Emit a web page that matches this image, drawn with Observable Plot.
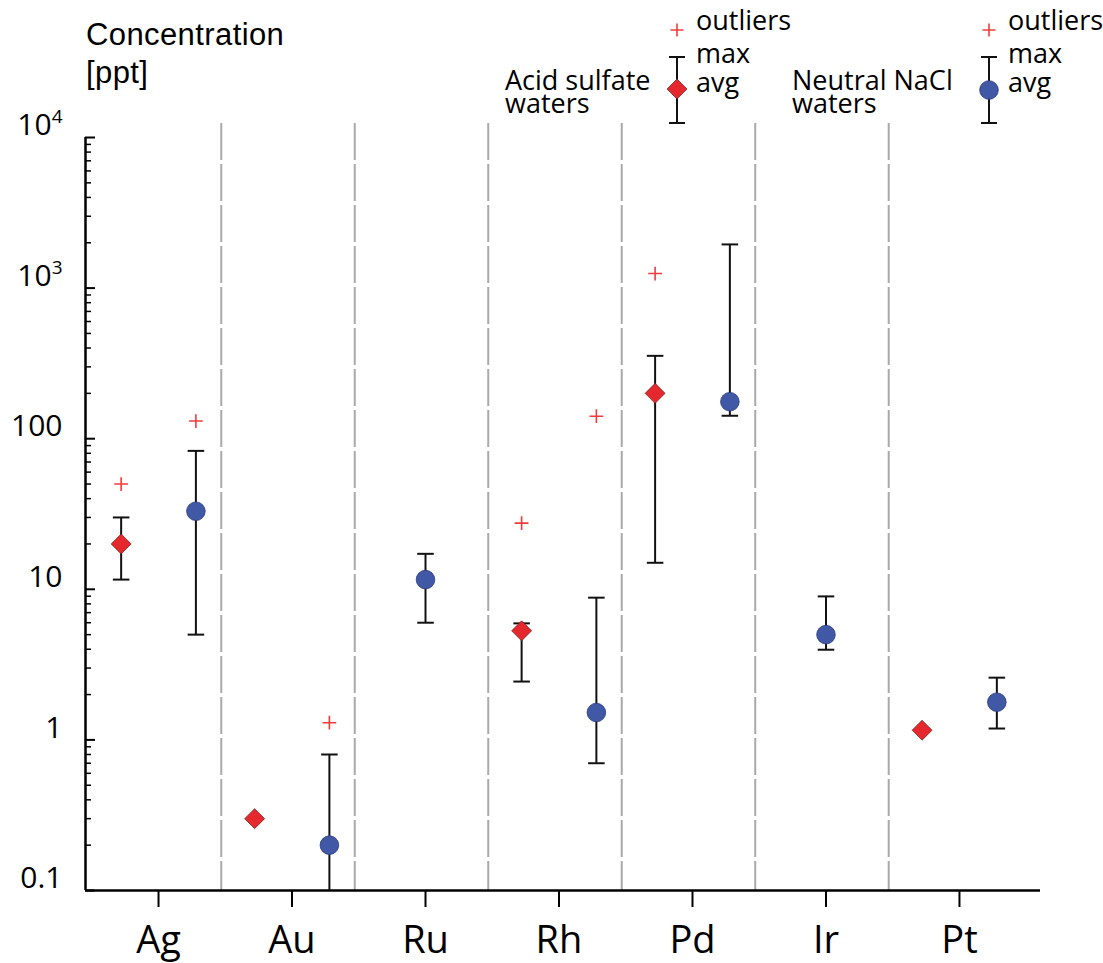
<!DOCTYPE html>
<html>
<head>
<meta charset="utf-8">
<script src="https://cdn.jsdelivr.net/npm/d3@7"></script>
<script src="https://cdn.jsdelivr.net/npm/@observablehq/plot@0.6"></script>
<style>
  html, body { margin: 0; padding: 0; background: #fff; }
  #chart { width: 1103px; height: 963px; }
</style>
</head>
<body>
<div id="chart"></div>
<script>
// Trace-element concentrations (ppt) in two hot-spring water types
const elements = ["Ag", "Au", "Ru", "Rh", "Pd", "Ir", "Pt"];

// Acid sulfate waters (null = not reported)
const acidAvg      = [20,   0.3,  null, 5.3,  200,  null, 1.16];
const acidMin      = [11.6, null, null, 2.44, 15,   null, null];
const acidMax      = [30,   null, null, 5.94, 355,  null, null];
const acidOutlier  = [50,   null, null, 27.5, 1250, null, null];

// Neutral NaCl waters
const neutralAvg     = [33,  0.2,  11.6, 1.52, 176,  5.0,  1.78];
const neutralMin     = [5.0, 0.1,  6.0,  0.70, 142,  3.97, 1.19];
const neutralMax     = [83,  0.80, 17.2, 8.8,  1950, 8.97, 2.59];
const neutralOutlier = [131, 1.3,  null, 141,  null, null, null];

// Y-axis ticks and labels
const yMajor = [0.1, 1, 10, 100, 1000, 10000];
const yLabels = ["0.1", "1", "10", "100", "10^3", "10^4"];

const RED = "#e4282d", BLUE = "#4058a6", OUT = "#ef3b3b";
const OFFSET = 0.28;     // horizontal shift of each series inside its element column
const CAP = 0.062;       // half-width of error-bar caps, in column units

// a series sits in the middle of its column when the other series has no value there
function rows(avg, min, max, out, other, shift) {
  return elements.map((el, i) => ({
    el, pos: i + (other[i] == null ? 0 : shift),
    avg: avg[i], min: min[i], max: max[i], out: out[i]
  }));
}
const acid = rows(acidAvg, acidMin, acidMax, acidOutlier, neutralAvg, -OFFSET);
const neutral = rows(neutralAvg, neutralMin, neutralMax, neutralOutlier, acidAvg, OFFSET);
const all = acid.concat(neutral);
const withBars = all.filter(d => d.min != null && d.max != null);
const withOut = all.filter(d => d.out != null);

const yMinor = [];
for (let e = -1; e < 4; e++) for (let k = 2; k <= 9; k++) yMinor.push(k * Math.pow(10, e));

const W = 1103, H = 963, ML = 85, MR = 63, MT = 137, MB = 73;
const frameW = W - ML - MR;
const xDomain = [-0.547, 6.607];

const chart = Plot.plot({
  width: W, height: H,
  marginLeft: ML, marginRight: MR, marginTop: MT, marginBottom: MB,
  style: { fontFamily: "'Open Sans', sans-serif", background: "#fff", color: "#000" },
  x: { domain: xDomain },
  y: { type: "log", domain: [0.1, 10000], axis: null },
  marks: [
    // dashed column separators
    Plot.ruleX(d3.range(elements.length - 1).map(i => i + 0.47), {
      stroke: "#a9a9a9", strokeWidth: 2, strokeDasharray: "37,4", insetTop: -14
    }),
    // error bars
    Plot.ruleX(withBars, { x: "pos", y1: "min", y2: "max", stroke: "#111", strokeWidth: 2 }),
    Plot.link(withBars, { x1: d => d.pos - CAP, x2: d => d.pos + CAP, y1: "max", y2: "max", stroke: "#111", strokeWidth: 2 }),
    Plot.link(withBars.filter(d => d.min > 0.1), { x1: d => d.pos - CAP, x2: d => d.pos + CAP, y1: "min", y2: "min", stroke: "#111", strokeWidth: 2 }),
    // averages
    Plot.dot(acid.filter(d => d.avg != null), {
      x: "pos", y: "avg", symbol: "diamond2", r: 9, fill: RED, stroke: "#6b1d1d", strokeWidth: 0.7
    }),
    Plot.dot(neutral.filter(d => d.avg != null), {
      x: "pos", y: "avg", r: 9.3, fill: BLUE, stroke: "#2a3a7a", strokeWidth: 0.8
    }),
    // outliers
    Plot.dot(withOut, { x: "pos", y: "out", symbol: "plus", r: 4.5, stroke: OUT, strokeWidth: 1.6 }),
    // axis lines
    Plot.ruleY([0.1], { stroke: "#000", strokeWidth: 2.5 }),
    Plot.ruleX([xDomain[0]], { stroke: "#000", strokeWidth: 2.5 }),
    // inward y ticks
    Plot.tickY(yMajor, { y: d => d, insetRight: frameW - 10, stroke: "#000", strokeWidth: 2 }),
    Plot.tickY(yMinor, { y: d => d, insetRight: frameW - 6, stroke: "#000", strokeWidth: 1.5 }),
    // y labels
    Plot.text(yMajor, {
      y: d => d, frameAnchor: "left", dx: -23, dy: -12, textAnchor: "end",
      text: (d, i) => yLabels[i], fontSize: 30, fill: "#000"
    }),
    // x axis
    Plot.axisX({
      ticks: d3.range(elements.length), tickFormat: i => elements[i],
      tickSize: 17, tickPadding: 19, fontSize: 38, strokeWidth: 2, label: null, fill: "#000"
    })
  ]
});

document.getElementById("chart").appendChild(chart);

const svg = d3.select(chart);

// power-of-ten labels with raised exponents
svg.selectAll("text").each(function () {
  const m = /^10\^(\d)$/.exec(this.textContent);
  if (m) {
    this.textContent = "10";
    d3.select(this).append("tspan").attr("dy", -12).attr("font-size", 19).text(m[1]);
  }
});

// axis title
const title = svg.append("g")
  .attr("font-family", "'Liberation Sans', Arial, sans-serif")
  .attr("text-anchor", "start")
  .attr("font-size", 31).attr("letter-spacing", "0.4px").attr("fill", "#000");
title.append("text").attr("x", 86).attr("y", 45).text("Concentration");
title.append("text").attr("x", 86).attr("y", 83).text("[ppt]");

// legends
function legend(labelX, symX, lines, kind) {
  const g = svg.append("g").attr("font-family", "'Open Sans', sans-serif")
    .attr("text-anchor", "start")
    .attr("font-size", 27).attr("fill", "#000");
  g.append("text").attr("x", labelX).attr("y", 90).text(lines[0]);
  g.append("text").attr("x", labelX).attr("y", 113).text(lines[1]);
  // outlier mark
  g.append("path").attr("d", `M${symX - 6.5},30H${symX + 6.5}M${symX},23.5V36.5`)
    .attr("stroke", OUT).attr("stroke-width", 1.6).attr("fill", "none");
  // range bar
  g.append("path").attr("d", `M${symX},57V123M${symX - 8},57H${symX + 8}M${symX - 8},123H${symX + 8}`)
    .attr("stroke", "#111").attr("stroke-width", 2).attr("fill", "none");
  if (kind === "diamond") {
    g.append("path").attr("d", `M${symX},79L${symX + 10},89L${symX},99L${symX - 10},89Z`)
      .attr("fill", RED).attr("stroke", "#6b1d1d").attr("stroke-width", 0.7);
  } else {
    g.append("circle").attr("cx", symX).attr("cy", 90).attr("r", 9.3)
      .attr("fill", BLUE).attr("stroke", "#2a3a7a").attr("stroke-width", 0.8);
  }
  g.append("text").attr("x", symX + 19).attr("y", 30).text("outliers");
  g.append("text").attr("x", symX + 19).attr("y", 63).text("max");
  g.append("text").attr("x", symX + 19).attr("y", 92).text("avg");
}
legend(505, 677, ["Acid sulfate", "waters"], "diamond");
legend(792, 989, ["Neutral NaCl", "waters"], "circle");
</script>
</body>
</html>
